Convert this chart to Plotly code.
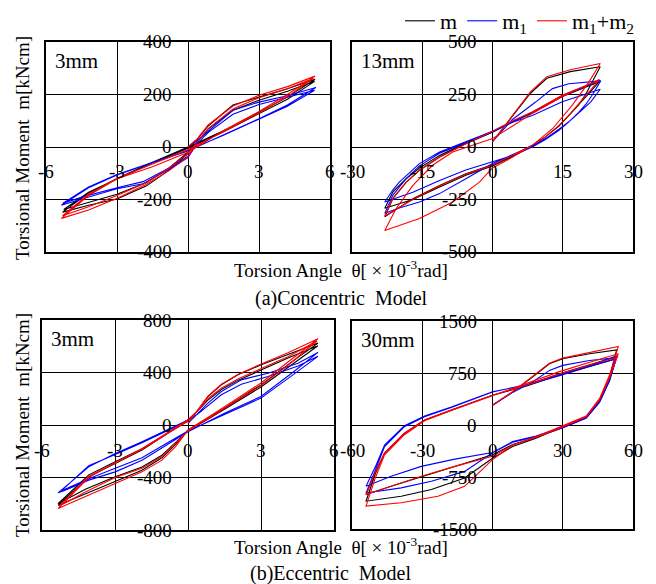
import plotly.graph_objects as go

# ---------------- data ----------------
# (a) Concentric model, 3mm  -- theta [x10^-3 rad], moment [kNcm]
a3_m_x = [0, 0.4, 0.85, 1.9, 3.0, 4.2, 5.37, 4.2, 3.0, 1.5, 0, -1.5, -3.0, -4.2, -5.3, -4.2, -3.0, -1.75, -0.8, 0,
          0.4, 0.85, 1.9, 3.0, 4.2, 5.35, 4.2, 3.0, 1.5, 0, -1.5, -3.0, -4.2, -5.25, -4.2, -3.0, -1.75, -0.8, 0, 0.4]
a3_m_y = [0, 30, 80, 160, 190, 222, 258, 190, 132, 62, 0, -58, -120, -175, -248, -222, -198, -148, -88, -25,
          22, 68, 140, 178, 212, 250, 182, 126, 58, -5, -60, -122, -172, -238, -210, -180, -135, -80, -20, 20]
a3_m1_x = [0, 0.4, 0.85, 1.9, 3.0, 4.2, 5.4, 4.2, 3.0, 1.5, 0, -1.5, -3.0, -4.2, -5.35, -4.45, -3.0, -1.9, -0.8, 0,
           0.4, 0.85, 1.9, 3.0, 4.2, 5.35, 4.2, 3.0, 1.5, 0, -1.5, -3.0, -4.2, -5.3, -4.45, -3.0, -1.9, -0.8, 0, 0.4]
a3_m1_y = [0, 25, 60, 140, 171, 195, 227, 160, 108, 48, -15, -60, -107, -155, -222, -197, -159, -140, -85, -40,
           15, 55, 125, 162, 190, 216, 155, 105, 45, -12, -58, -105, -152, -215, -190, -155, -132, -80, -35, 15]
a3_m12_x = [0, 0.4, 0.85, 1.9, 3.0, 4.2, 5.37, 4.2, 3.0, 1.5, 0, -1.5, -3.0, -4.2, -5.35, -4.2, -2.97, -1.77, -0.8, 0,
            0.4, 0.85, 1.9, 3.0, 4.2, 5.3, 4.2, 3.0, 1.5, 0, -1.5, -3.0, -4.2, -5.3, -4.2, -3.0, -1.75, -0.8, 0, 0.4]
a3_m12_y = [0, 32, 84, 156, 197, 230, 270, 200, 135, 62, -20, -75, -121, -185, -272, -240, -194, -143, -90, -38,
            20, 70, 145, 188, 222, 262, 192, 130, 58, -10, -65, -120, -180, -262, -228, -185, -135, -80, -25, 20]

# (a) Concentric model, 13mm
a13_m_x = [0, 4.2, 8.1, 11.6, 16.6, 23.0, 21.5, 20.0, 18.4, 16.3, 14.2, 11.3, 8.5, 4.3, 0, -5.7, -11.3, -17, -23.0,
           -21.3, -18.4, -15.6, -11.3, -5.7, 0, 4.3, 8.5, 14.9, 22.8, 20.6, 18.4, 16.3, 14.2, 11.3, 8.5, 4.3, 0,
           -5.7, -11.3, -17, -23.0, -21.3, -18.4, -15.6, -11.3, -5.7, 0, 4.3, 8.5, 14.9, 22.8]
a13_m_y = [25, 144, 256, 327, 359, 382, 320, 255, 200, 148, 100, 48, 8, -42, -85, -127, -183, -246, -332,
           -246, -167, -111, -48, 16, 70, 120, 162, 240, 311, 255, 200, 148, 100, 48, 5, -45, -90,
           -135, -190, -250, -292, -215, -150, -100, -40, 20, 72, 122, 165, 245, 318]
a13_m1_x = [0, 4.2, 9.2, 12.8, 16.3, 23.1, 21.5, 20.0, 18.4, 16.3, 14.2, 11.3, 8.5, 4.3, 0, -5.7, -11.3, -17, -23.0,
            -21.3, -19.9, -15.6, -11.3, -5.7, 0, 4.3, 8.5, 14.9, 23.0, 21.0, 18.4, 16.3, 14.2, 11.3, 8.5, 4.3, 0,
            -5.7, -11.3, -15.6, -19.9, -23.0, -21.3, -18.4, -15.6, -11.3, -5.7, 0, 4.3, 8.5, 14.9, 23.0]
a13_m1_y = [25, 130, 214, 278, 301, 315, 255, 205, 165, 120, 80, 35, 0, -40, -70, -110, -160, -215, -262,
            -205, -167, -79, -24, 24, 75, 118, 150, 215, 275, 215, 160, 120, 85, 40, 5, -38, -79,
            -151, -222, -262, -290, -316, -230, -150, -90, -30, 20, 72, 120, 165, 240, 318]
a13_m12_x = [0, 4.2, 8.1, 11.6, 16.6, 23.0, 20.6, 17.0, 12.8, 8.5, 4.3, 0, -2.8, -8.5, -15.6, -23.0,
             -20.6, -17, -12.8, -8.5, -4.3, 0, 4.3, 8.5, 14.9, 22.8, 20.6, 18.4, 16.3, 14.2, 11.3, 8.5, 4.3, 0,
             -5.7, -11.3, -17, -23.0, -21.3, -18.4, -15.6, -11.3, -5.7, 0, 4.3, 8.5, 14.9, 22.8]
a13_m12_y = [25, 148, 262, 335, 368, 398, 310, 198, 87, 8, -48, -100, -167, -262, -341, -398,
             -294, -183, -87, -24, 8, 40, 100, 160, 240, 322, 262, 206, 151, 103, 48, 8, -40, -87,
             -130, -185, -250, -329, -246, -167, -111, -48, 16, 75, 125, 167, 246, 318]

# (b) Eccentric model, 3mm
b3_m_x = [0, 0.41, 0.82, 1.37, 2.05, 3.01, 4.11, 5.34, 4.11, 3.0, 1.5, 0, -0.52, -1.07, -1.89, -2.99, -4.22, -5.34,
          -4.08, -2.99, -1.89, 0, 0.41, 0.82, 1.37, 2.05, 3.01, 4.11, 5.34, 4.11, 3.0, 1.5, 0,
          -1.07, -1.89, -2.99, -4.22, -5.34, -4.08, -2.99, -1.89, 0]
b3_m_y = [13, 115, 217, 306, 382, 459, 535, 624, 460, 306, 130, -38, -150, -250, -345, -430, -530, -612,
          -395, -293, -191, 38, 110, 190, 270, 340, 420, 510, 604, 440, 290, 120, -45,
          -230, -320, -395, -490, -600, -380, -280, -180, 30]
b3_m1_x = [0, 0.41, 0.82, 1.37, 2.19, 3.29, 4.52, 5.34, 4.3, 3.0, 1.5, 0, -0.79, -1.89, -2.99, -4.08, -5.1, -5.34,
           -4.08, -2.99, -1.89, 0, 0.41, 0.82, 1.37, 2.19, 3.29, 4.52, 5.34, 4.3, 3.0, 1.5, 0,
           -0.79, -1.89, -2.99, -4.08, -5.2, -4.08, -2.99, -1.89, 0]
b3_m1_y = [13, 90, 166, 255, 344, 395, 471, 553, 400, 217, 90, -51, -140, -268, -357, -420, -500, -517,
           -319, -217, -127, 38, 85, 150, 230, 310, 370, 450, 523, 380, 205, 80, -45,
           -130, -250, -330, -410, -500, -310, -225, -135, 30]
b3_m12_x = [0, 0.41, 0.82, 1.37, 2.05, 3.01, 4.11, 5.34, 4.11, 3.0, 1.5, 0, -0.52, -1.07, -1.89, -2.99, -4.22, -5.34,
            -4.08, -2.99, -1.89, 0, 0.41, 0.82, 1.37, 2.05, 3.01, 4.11, 5.3, 4.11, 3.0, 1.5, 0,
            -1.07, -1.89, -2.99, -4.22, -5.3, -4.08, -2.99, -1.89, 0]
b3_m12_y = [13, 120, 220, 310, 385, 465, 550, 657, 480, 320, 140, -40, -166, -268, -357, -446, -548, -637,
            -400, -285, -180, 40, 110, 200, 280, 350, 430, 520, 640, 455, 300, 130, -45,
            -240, -330, -400, -510, -620, -390, -290, -185, 30]

# (b) Eccentric model, 30mm
b30_m_x = [0, 8.6, 17.1, 24.3, 30, 41.4, 53, 50, 45.7, 40, 30, 18.6, 8.6, 0, -11.9, -26.1, -39, -54,
           -50, -46.1, -37.6, -29, -17.6, 0, 14.3, 28.6, 42.9, 53, 50, 45.7, 40, 30, 18.6, 8.6, 0,
           -16.1, -30.4, -43.3, -54, -50, -46.1, -37.6, -29, -17.6, 0, 14.3, 28.6, 42.9, 53]
b30_m_y = [286, 477, 692, 883, 955, 1027, 1084, 692, 358, 119, -24, -190, -310, -480, -764, -931, -1027, -1099,
           -700, -406, -119, 72, 215, 430, 573, 740, 883, 988, 640, 330, 100, -40, -180, -280, -430,
           -597, -740, -884, -1003, -680, -406, -119, 72, 215, 430, 560, 720, 860, 960]
b30_m1_x = [0, 8.6, 17.1, 24.3, 30, 41.4, 53, 50, 45.7, 40, 30, 18.6, 8.6, 0, -11.9, -26.1, -39, -54,
            -50, -46.1, -37.6, -29, -17.6, 0, 14.3, 28.6, 42.9, 53, 50, 45.7, 40, 30, 18.6, 8.6, 0,
            -16.1, -30.4, -43.3, -54, -50, -46.1, -37.6, -29, -17.6, 0, 14.3, 28.6, 42.9, 53]
b30_m1_y = [286, 470, 621, 788, 860, 931, 970, 640, 330, 100, -40, -170, -250, -400, -669, -812, -907, -980,
            -650, -310, -24, 119, 253, 477, 580, 720, 870, 1000, 660, 340, 110, -30, -160, -240, -396,
            -492, -597, -740, -884, -600, -290, -10, 130, 260, 480, 575, 710, 860, 955]
b30_m12_x = [0, 8.6, 17.1, 24.3, 30, 41.4, 53.7, 50, 45.7, 40, 30, 18.6, 8.6, 0, -11.9, -23.3, -39, -54,
             -50, -46.1, -37.6, -29, -17.6, 0, 14.3, 28.6, 42.9, 53.7, 50, 45.7, 40, 30, 18.6, 8.6, 0,
             -16.1, -30.4, -43.3, -54, -50, -46.1, -37.6, -29, -17.6, 0, 14.3, 28.6, 42.9, 53.7]
b30_m12_y = [286, 480, 700, 890, 965, 1050, 1132, 720, 380, 130, -10, -170, -290, -500, -884, -1027, -1122, -1170,
             -760, -430, -140, 60, 210, 420, 590, 770, 920, 1027, 680, 360, 120, -30, -180, -290, -450,
             -597, -740, -884, -1003, -680, -406, -119, 72, 215, 430, 570, 735, 880, 980]

# tick values per panel
a3_xticks = [-6, -3, 0, 3, 6]
a3_yticks = [-400, -200, 0, 200, 400]
a13_xticks = [-30, -15, 0, 15, 30]
a13_yticks = [-500, -250, 0, 250, 500]
b3_xticks = [-6, -3, 0, 3, 6]
b3_yticks = [-800, -400, 0, 400, 800]
b30_xticks = [-60, -30, 0, 30, 60]
b30_yticks = [-1500, -750, 0, 750, 1500]

series_names = ["m", "m<sub>1</sub>", "m<sub>1</sub>+m<sub>2</sub>"]
series_colors = ["#000000", "#0000FF", "#FF0000"]
panel_labels = ["3mm", "13mm", "3mm", "30mm"]

W, H = 656, 584
FONT = "Liberation Serif"

panels = [
    dict(data=[(a3_m_x, a3_m_y), (a3_m1_x, a3_m1_y), (a3_m12_x, a3_m12_y)],
         xt=a3_xticks, yt=a3_yticks, px=(46, 330), py=(42, 252)),
    dict(data=[(a13_m_x, a13_m_y), (a13_m1_x, a13_m1_y), (a13_m12_x, a13_m12_y)],
         xt=a13_xticks, yt=a13_yticks, px=(352, 633), py=(42, 252)),
    dict(data=[(b3_m_x, b3_m_y), (b3_m1_x, b3_m1_y), (b3_m12_x, b3_m12_y)],
         xt=b3_xticks, yt=b3_yticks, px=(42, 334), py=(320, 530)),
    dict(data=[(b30_m_x, b30_m_y), (b30_m1_x, b30_m1_y), (b30_m12_x, b30_m12_y)],
         xt=b30_xticks, yt=b30_yticks, px=(352, 633), py=(321, 529)),
]

fig = go.Figure()
annotations = []
layout_axes = {}

for i, p in enumerate(panels, start=1):
    sx = "" if i == 1 else str(i)
    xref, yref = "x" + sx, "y" + sx
    for k, (xs, ys) in enumerate(p["data"]):
        fig.add_trace(go.Scatter(
            x=xs, y=ys, mode="lines", name=series_names[k],
            line=dict(color=series_colors[k], width=1.1),
            xaxis=xref, yaxis=yref, showlegend=(i == 1), legendgroup=str(k),
            hoverinfo="skip"))
    axis_common = dict(showticklabels=False, showgrid=True, gridcolor="#000000", gridwidth=1,
                       zeroline=True, zerolinecolor="#000000", zerolinewidth=1,
                       showline=True, mirror=True, linecolor="#000000", linewidth=2,
                       ticks="", fixedrange=True)
    layout_axes["xaxis" + sx] = dict(axis_common, domain=[p["px"][0] / W, p["px"][1] / W],
                                     range=[p["xt"][0], p["xt"][-1]], tickvals=p["xt"], anchor=yref)
    layout_axes["yaxis" + sx] = dict(axis_common, domain=[1 - p["py"][1] / H, 1 - p["py"][0] / H],
                                     range=[p["yt"][0], p["yt"][-1]], tickvals=p["yt"], anchor=xref)
    for v in p["xt"]:
        annotations.append(dict(x=v, y=0, xref=xref, yref=yref, text=str(v), showarrow=False,
                                xanchor="center", yanchor="middle", yshift=-25,
                                font=dict(family=FONT, size=19, color="#000")))
    for v in p["yt"]:
        annotations.append(dict(x=0, y=v, xref=xref, yref=yref, text=str(v), showarrow=False,
                                xanchor="right", yanchor="middle", xshift=-14,
                                font=dict(family=FONT, size=19, color="#000")))
    annotations.append(dict(x=0, y=1, xref=xref + " domain", yref=yref + " domain",
                            text=panel_labels[i - 1], showarrow=False, xanchor="left", yanchor="top",
                            xshift=7, yshift=-5, font=dict(family=FONT, size=21, color="#000")))

ytitle = "Torsional Moment\u00a0\u00a0m[kNcm]"
xtitle = "Torsion Angle\u00a0\u00a0θ[\u00a0×\u00a010<sup>-3</sup>rad]"
for yc in (148, 425):
    annotations.append(dict(x=22 / W, y=1 - yc / H, xref="paper", yref="paper", text=ytitle,
                            textangle=-90, showarrow=False, xanchor="center", yanchor="middle",
                            font=dict(family=FONT, size=19, color="#000")))
for yc in (269, 546):
    annotations.append(dict(x=341 / W, y=1 - yc / H, xref="paper", yref="paper", text=xtitle,
                            showarrow=False, xanchor="center", yanchor="middle",
                            font=dict(family=FONT, size=19, color="#000")))
annotations.append(dict(x=341 / W, y=1 - 298 / H, xref="paper", yref="paper",
                        text="(a)Concentric\u00a0\u00a0Model", showarrow=False,
                        xanchor="center", yanchor="middle", font=dict(family=FONT, size=20, color="#000")))
annotations.append(dict(x=330 / W, y=1 - 573 / H, xref="paper", yref="paper",
                        text="(b)Eccentric\u00a0\u00a0Model", showarrow=False,
                        xanchor="center", yanchor="middle", font=dict(family=FONT, size=20, color="#000")))

fig.update_layout(
    width=W, height=H,
    margin=dict(l=0, r=0, t=0, b=0),
    paper_bgcolor="white", plot_bgcolor="white",
    font=dict(family=FONT, size=18, color="#000"),
    showlegend=True,
    legend=dict(orientation="h", x=640 / W, xanchor="right", y=1.0, yanchor="top",
                font=dict(family=FONT, size=22, color="#000"), bgcolor="rgba(0,0,0,0)",
                itemwidth=30, tracegroupgap=0),
    annotations=annotations,
    **layout_axes,
)

fig.write_html("out.html",
               config={"displayModeBar": False},
               post_script="document.body.style.margin='0';document.body.style.overflow='hidden';")
